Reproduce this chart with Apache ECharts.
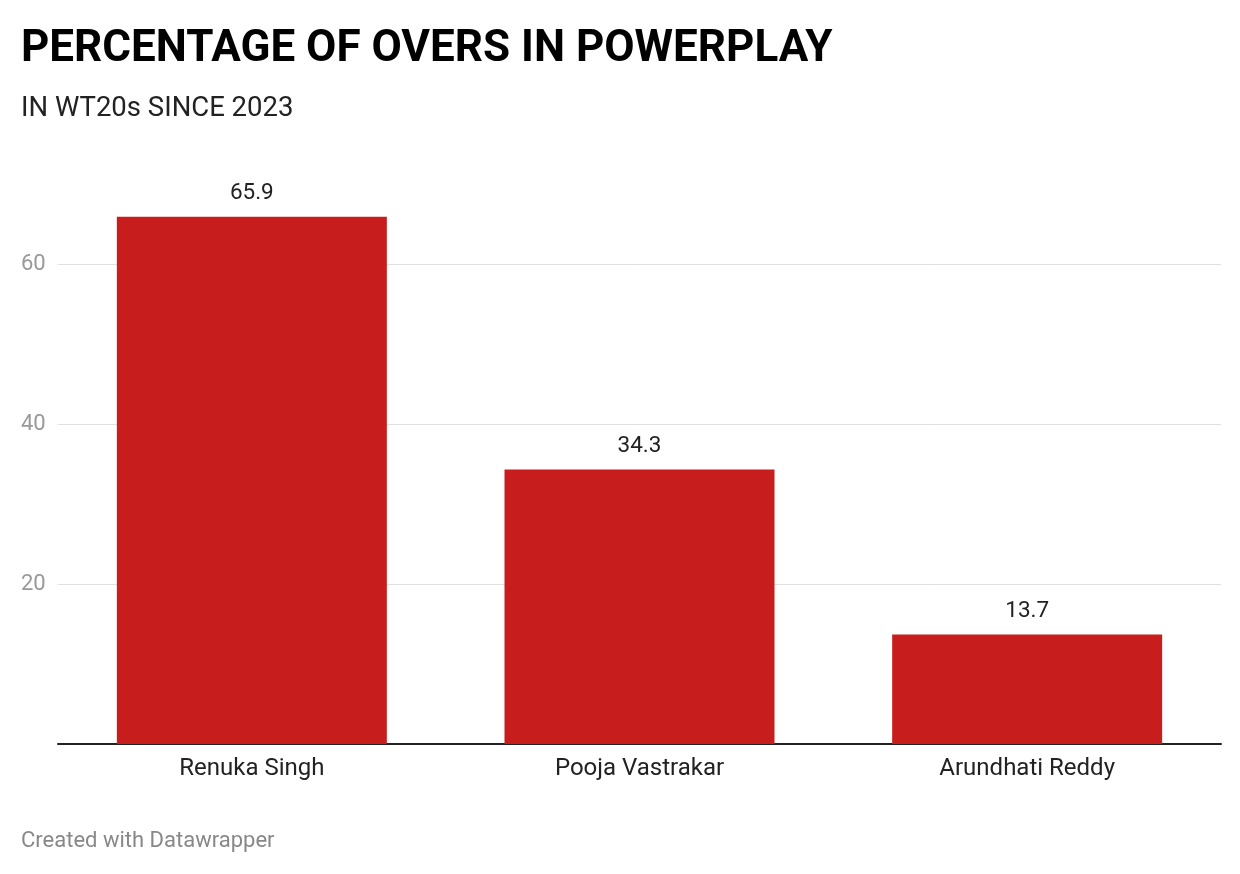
<!DOCTYPE html>
<html>
<head>
<meta charset="utf-8">
<script src="https://cdn.jsdelivr.net/npm/echarts@6/dist/echarts.min.js"></script>
<style>html,body{margin:0;padding:0;background:#fff;}#c{width:1240px;height:874px;}</style>
</head>
<body>
<div id="c"></div>
<script>
const categories = ['Renuka Singh', 'Pooja Vastrakar', 'Arundhati Reddy'];
const values = [65.9, 34.3, 13.7];
const yTicks = [0, 20, 40, 60];

const chart = echarts.init(document.getElementById('c'), null, {renderer: 'canvas'});
chart.setOption({
  animation: false,
  backgroundColor: '#fff',
  textStyle: {fontFamily: 'Roboto'},
  title: [
    {text: 'PERCENTAGE OF OVERS IN POWERPLAY', left: 21, top: 28, padding: 0,
     textStyle: {fontFamily: 'Roboto', fontWeight: 'bold', fontSize: 44, color: '#000'}},
    {text: 'IN WT20s SINCE 2023', left: 21, top: 95, padding: 0,
     textStyle: {fontFamily: 'Roboto', fontWeight: 'normal', fontSize: 27.5, color: '#222'}},
    {text: 'Created with Datawrapper', left: 21, top: 830, padding: 0,
     textStyle: {fontFamily: 'Roboto', fontWeight: 'normal', fontSize: 22, color: '#888'}}
  ],
  grid: {left: 58, right: 19, top: 184, bottom: 130, containLabel: false},
  xAxis: {
    type: 'category', data: categories,
    axisLine: {lineStyle: {color: '#222', width: 2}},
    axisTick: {show: false},
    axisLabel: {fontSize: 24, color: '#222', margin: 13, fontFamily: 'Roboto'}
  },
  yAxis: {
    type: 'value', min: 0, max: 70, interval: 20,
    axisLine: {show: false}, axisTick: {show: false},
    axisLabel: {fontSize: 22, color: '#999', align: 'left', margin: 37, showMaxLabel: false,
      formatter: v => (yTicks.includes(v) && v !== 0) ? String(v) : ''},
    splitLine: {show: true, showMaxLine: false, lineStyle: {color: '#e0e0e0', width: 1}}
  },
  series: [{
    type: 'bar', data: values, barWidth: 270,
    itemStyle: {color: '#c71e1d'},
    label: {show: true, position: 'top', distance: 12, fontSize: 22.5, color: '#222', fontFamily: 'Roboto'}
  }]
});
</script>
</body>
</html>
